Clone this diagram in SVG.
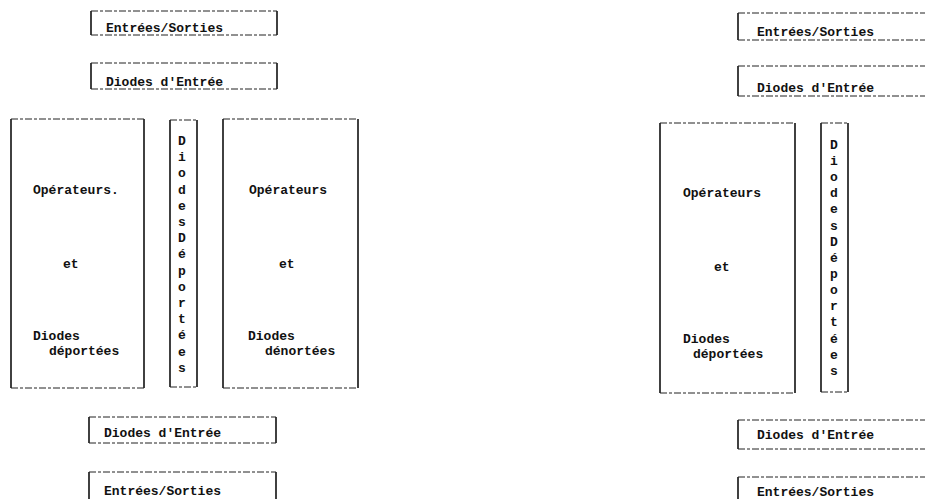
<svg xmlns="http://www.w3.org/2000/svg" width="925" height="499" viewBox="0 0 925 499">
<style>
.bg{fill:#fff}
.side{stroke:#111;stroke-width:1.6;fill:none}
.edge{stroke:#222;stroke-width:1;stroke-dasharray:7 2 3 2;fill:none}
.t{font-family:"Liberation Mono","DejaVu Sans Mono",monospace;font-weight:bold;font-size:13px;fill:#111}
.v{font-family:"Liberation Mono","DejaVu Sans Mono",monospace;font-weight:bold;font-size:13px;fill:#111;text-anchor:middle}
</style>
<rect class="bg" x="0" y="0" width="925" height="499"/>

<!-- LEFT FIGURE -->
<g id="L_es_top">
<line class="side" x1="91" y1="11" x2="91" y2="35"/><line class="side" x1="277" y1="11" x2="277" y2="35"/>
<line class="edge" x1="91" y1="11" x2="277" y2="11"/><line class="edge" x1="91" y1="35" x2="277" y2="35"/>
<text class="t" x="106" y="32">Entrées/Sorties</text>
</g>
<g id="L_de_top">
<line class="side" x1="91" y1="63" x2="91" y2="89"/><line class="side" x1="277" y1="63" x2="277" y2="89"/>
<line class="edge" x1="91" y1="63" x2="277" y2="63"/><line class="edge" x1="91" y1="89" x2="277" y2="89"/>
<text class="t" x="106" y="86">Diodes d'Entrée</text>
</g>
<g id="L_op1">
<line class="side" x1="11" y1="119" x2="11" y2="388"/><line class="side" x1="144" y1="119" x2="144" y2="388"/>
<line class="edge" x1="11" y1="119" x2="144" y2="119"/><line class="edge" x1="11" y1="388" x2="144" y2="388"/>
<text class="t" x="33" y="194">Opérateurs.</text>
<text class="t" x="63" y="268">et</text>
<text class="t" x="33" y="340">Diodes</text>
<text class="t" x="49" y="355">déportées</text>
</g>
<g id="L_dd">
<line class="side" x1="170" y1="120" x2="170" y2="387"/><line class="side" x1="197" y1="120" x2="197" y2="387"/>
<line class="edge" x1="170" y1="120" x2="197" y2="120"/><line class="edge" x1="170" y1="387" x2="197" y2="387"/>
<text class="v" x="182"><tspan x="182" y="145">D</tspan><tspan x="182" y="161">i</tspan><tspan x="182" y="177">o</tspan><tspan x="182" y="194">d</tspan><tspan x="182" y="210">e</tspan><tspan x="182" y="226">s</tspan><tspan x="182" y="242">D</tspan><tspan x="182" y="258">é</tspan><tspan x="182" y="275">p</tspan><tspan x="182" y="291">o</tspan><tspan x="182" y="307">r</tspan><tspan x="182" y="323">t</tspan><tspan x="182" y="339">é</tspan><tspan x="182" y="356">e</tspan><tspan x="182" y="372">s</tspan></text>
</g>
<g id="L_op2">
<line class="side" x1="223" y1="119" x2="223" y2="388"/><line class="side" x1="358" y1="119" x2="358" y2="388"/>
<line class="edge" x1="223" y1="119" x2="358" y2="119"/><line class="edge" x1="223" y1="388" x2="358" y2="388"/>
<text class="t" x="249" y="194">Opérateurs</text>
<text class="t" x="279" y="268">et</text>
<text class="t" x="248" y="340">Diodes</text>
<text class="t" x="265" y="355">dénortées</text>
</g>
<g id="L_de_bot">
<line class="side" x1="89" y1="417" x2="89" y2="443"/><line class="side" x1="276" y1="417" x2="276" y2="443"/>
<line class="edge" x1="89" y1="417" x2="276" y2="417"/><line class="edge" x1="89" y1="443" x2="276" y2="443"/>
<text class="t" x="104" y="437">Diodes d'Entrée</text>
</g>
<g id="L_es_bot">
<line class="side" x1="89" y1="472" x2="89" y2="500"/><line class="side" x1="276" y1="472" x2="276" y2="500"/>
<line class="edge" x1="89" y1="472" x2="276" y2="472"/>
<text class="t" x="104" y="495">Entrées/Sorties</text>
</g>

<!-- RIGHT FIGURE -->
<g id="R_es_top">
<line class="side" x1="738" y1="13" x2="738" y2="40"/>
<line class="edge" x1="738" y1="13" x2="925" y2="13"/><line class="edge" x1="738" y1="40" x2="925" y2="40"/>
<text class="t" x="757" y="36">Entrées/Sorties</text>
</g>
<g id="R_de_top">
<line class="side" x1="738" y1="66" x2="738" y2="96"/>
<line class="edge" x1="738" y1="66" x2="925" y2="66"/><line class="edge" x1="738" y1="96" x2="925" y2="96"/>
<text class="t" x="757" y="92">Diodes d'Entrée</text>
</g>
<g id="R_op">
<line class="side" x1="660" y1="123" x2="660" y2="393"/><line class="side" x1="795" y1="123" x2="795" y2="393"/>
<line class="edge" x1="660" y1="123" x2="795" y2="123"/><line class="edge" x1="660" y1="393" x2="795" y2="393"/>
<text class="t" x="683" y="197">Opérateurs</text>
<text class="t" x="714" y="271">et</text>
<text class="t" x="683" y="343">Diodes</text>
<text class="t" x="693" y="358">déportées</text>
</g>
<g id="R_dd">
<line class="side" x1="821" y1="123" x2="821" y2="392"/><line class="side" x1="848" y1="123" x2="848" y2="392"/>
<line class="edge" x1="821" y1="123" x2="848" y2="123"/><line class="edge" x1="821" y1="392" x2="848" y2="392"/>
<text class="v" x="834"><tspan x="834" y="149">D</tspan><tspan x="834" y="165">i</tspan><tspan x="834" y="181">o</tspan><tspan x="834" y="197">d</tspan><tspan x="834" y="213">e</tspan><tspan x="834" y="230">s</tspan><tspan x="834" y="246">D</tspan><tspan x="834" y="262">é</tspan><tspan x="834" y="278">p</tspan><tspan x="834" y="294">o</tspan><tspan x="834" y="310">r</tspan><tspan x="834" y="326">t</tspan><tspan x="834" y="343">é</tspan><tspan x="834" y="359">e</tspan><tspan x="834" y="375">s</tspan></text>
</g>
<g id="R_de_bot">
<line class="side" x1="738" y1="420" x2="738" y2="449"/>
<line class="edge" x1="738" y1="420" x2="925" y2="420"/><line class="edge" x1="738" y1="449" x2="925" y2="449"/>
<text class="t" x="757" y="439">Diodes d'Entrée</text>
</g>
<g id="R_es_bot">
<line class="side" x1="738" y1="477" x2="738" y2="500"/>
<line class="edge" x1="738" y1="477" x2="925" y2="477"/>
<text class="t" x="757" y="496">Entrées/Sorties</text>
</g>
</svg>
